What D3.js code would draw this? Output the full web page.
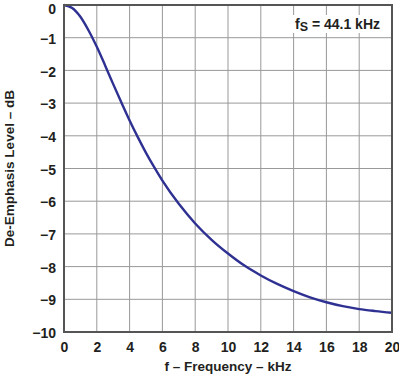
<!DOCTYPE html>
<html>
<head>
<meta charset="utf-8">
<script src="https://cdn.jsdelivr.net/npm/d3@7"></script>
<style>
  body { margin: 0; background: #fff; }
  svg text { font-family: "Liberation Sans", Arial, sans-serif; font-weight: bold; fill: #231f20; }
</style>
</head>
<body>
<div class="chart"></div>
<script>
// frequency in kHz, level in dB
const freqs = [0, 0.5, 1, 1.5, 2, 2.5, 3, 3.5, 4, 4.5, 5, 5.5, 6, 7, 8, 9, 10, 11, 12, 13, 14, 15, 16, 17, 18, 19, 20];
const levels = [0, -0.09, -0.36, -0.78, -1.28, -1.84, -2.42, -2.98, -3.53, -4.04, -4.52, -4.96, -5.37, -6.08, -6.68, -7.18, -7.6, -7.97, -8.27, -8.53, -8.75, -8.94, -9.09, -9.21, -9.3, -9.36, -9.41];
const xTicks = [0, 2, 4, 6, 8, 10, 12, 14, 16, 18, 20];
const yTicks = [0, -1, -2, -3, -4, -5, -6, -7, -8, -9, -10];

const svg = d3.select('.chart')
  .append('svg')
  .attr('width', 399)
  .attr('height', 376);

const margin = {top: 5, right: 7, bottom: 44, left: 64};
const graphWidth = 399 - margin.left - margin.right;
const graphHeight = 376 - margin.top - margin.bottom;

const graph = svg.append('g')
  .attr('transform', `translate(${margin.left}, ${margin.top})`);

const x = d3.scaleLinear().domain([0, 20]).range([0, graphWidth]);
const y = d3.scaleLinear().domain([-10, 0]).range([graphHeight, 0]);

// grid
graph.append('g')
  .selectAll('line')
  .data(xTicks.slice(1, -1))
  .enter().append('line')
    .attr('x1', d => x(d)).attr('x2', d => x(d))
    .attr('y1', 0).attr('y2', graphHeight)
    .attr('stroke', '#999').attr('stroke-width', 1);
graph.append('g')
  .selectAll('line')
  .data(yTicks.slice(1, -1))
  .enter().append('line')
    .attr('y1', d => y(d)).attr('y2', d => y(d))
    .attr('x1', 0).attr('x2', graphWidth)
    .attr('stroke', '#999').attr('stroke-width', 1);

// label box
const box = graph.append('g')
  .attr('transform', `translate(${graphWidth - 100}, 10)`);
box.append('rect')
  .attr('width', 99).attr('height', 18)
  .attr('fill', '#fff');
const lbl = box.append('text')
  .attr('x', 3).attr('y', 14)
  .style('font-size', '14px');
lbl.append('tspan').text('f');
lbl.append('tspan').text('S').style('font-size', '12.5px').attr('dy', 2);
lbl.append('tspan').text(' = 44.1 kHz').attr('dy', -2);

// curve
const pts = freqs.map((f, i) => [f, levels[i]]);
const line = d3.line()
  .x(d => x(d[0]))
  .y(d => y(d[1]))
  .curve(d3.curveMonotoneX);
graph.append('path')
  .datum(pts)
  .attr('d', line)
  .attr('fill', 'none')
  .attr('stroke', '#2e3192')
  .attr('stroke-width', 2.4);

// frame
graph.append('rect')
  .attr('width', graphWidth).attr('height', graphHeight)
  .attr('fill', 'none')
  .attr('stroke', '#555').attr('stroke-width', 2);

// axes
const xAxis = d3.axisBottom(x).tickValues(xTicks).tickSize(0).tickPadding(10).tickFormat(d => d);
const yAxis = d3.axisLeft(y).tickValues(yTicks).tickSize(0).tickPadding(8)
  .tickFormat(d => d < 0 ? '\u2212' + Math.abs(d) : d);

const xAxisGroup = graph.append('g').attr('transform', `translate(0, ${graphHeight})`).call(xAxis);
const yAxisGroup = graph.append('g').call(yAxis);
[xAxisGroup, yAxisGroup].forEach(g => {
  g.select('.domain').remove();
  g.selectAll('text')
    .style('font-size', '14px')
    .style('font-family', '"Liberation Sans", Arial, sans-serif')
    .style('font-weight', 'bold')
    .attr('fill', '#231f20');
});
// top "0" sits against the edge, nudge it so it stays inside
yAxisGroup.selectAll('text').attr('dy', d => d === 0 ? '0.58em' : '0.4em');

// titles
svg.append('text')
  .attr('x', margin.left + graphWidth / 2)
  .attr('y', 371)
  .attr('text-anchor', 'middle')
  .style('font-size', '13.5px')
  .text('f \u2013 Frequency \u2013 kHz');

svg.append('text')
  .attr('transform', 'rotate(-90)')
  .attr('x', -(margin.top + graphHeight / 2))
  .attr('y', 14)
  .attr('text-anchor', 'middle')
  .style('font-size', '13.5px')
  .text('De-Emphasis Level \u2013 dB');
</script>
</body>
</html>
